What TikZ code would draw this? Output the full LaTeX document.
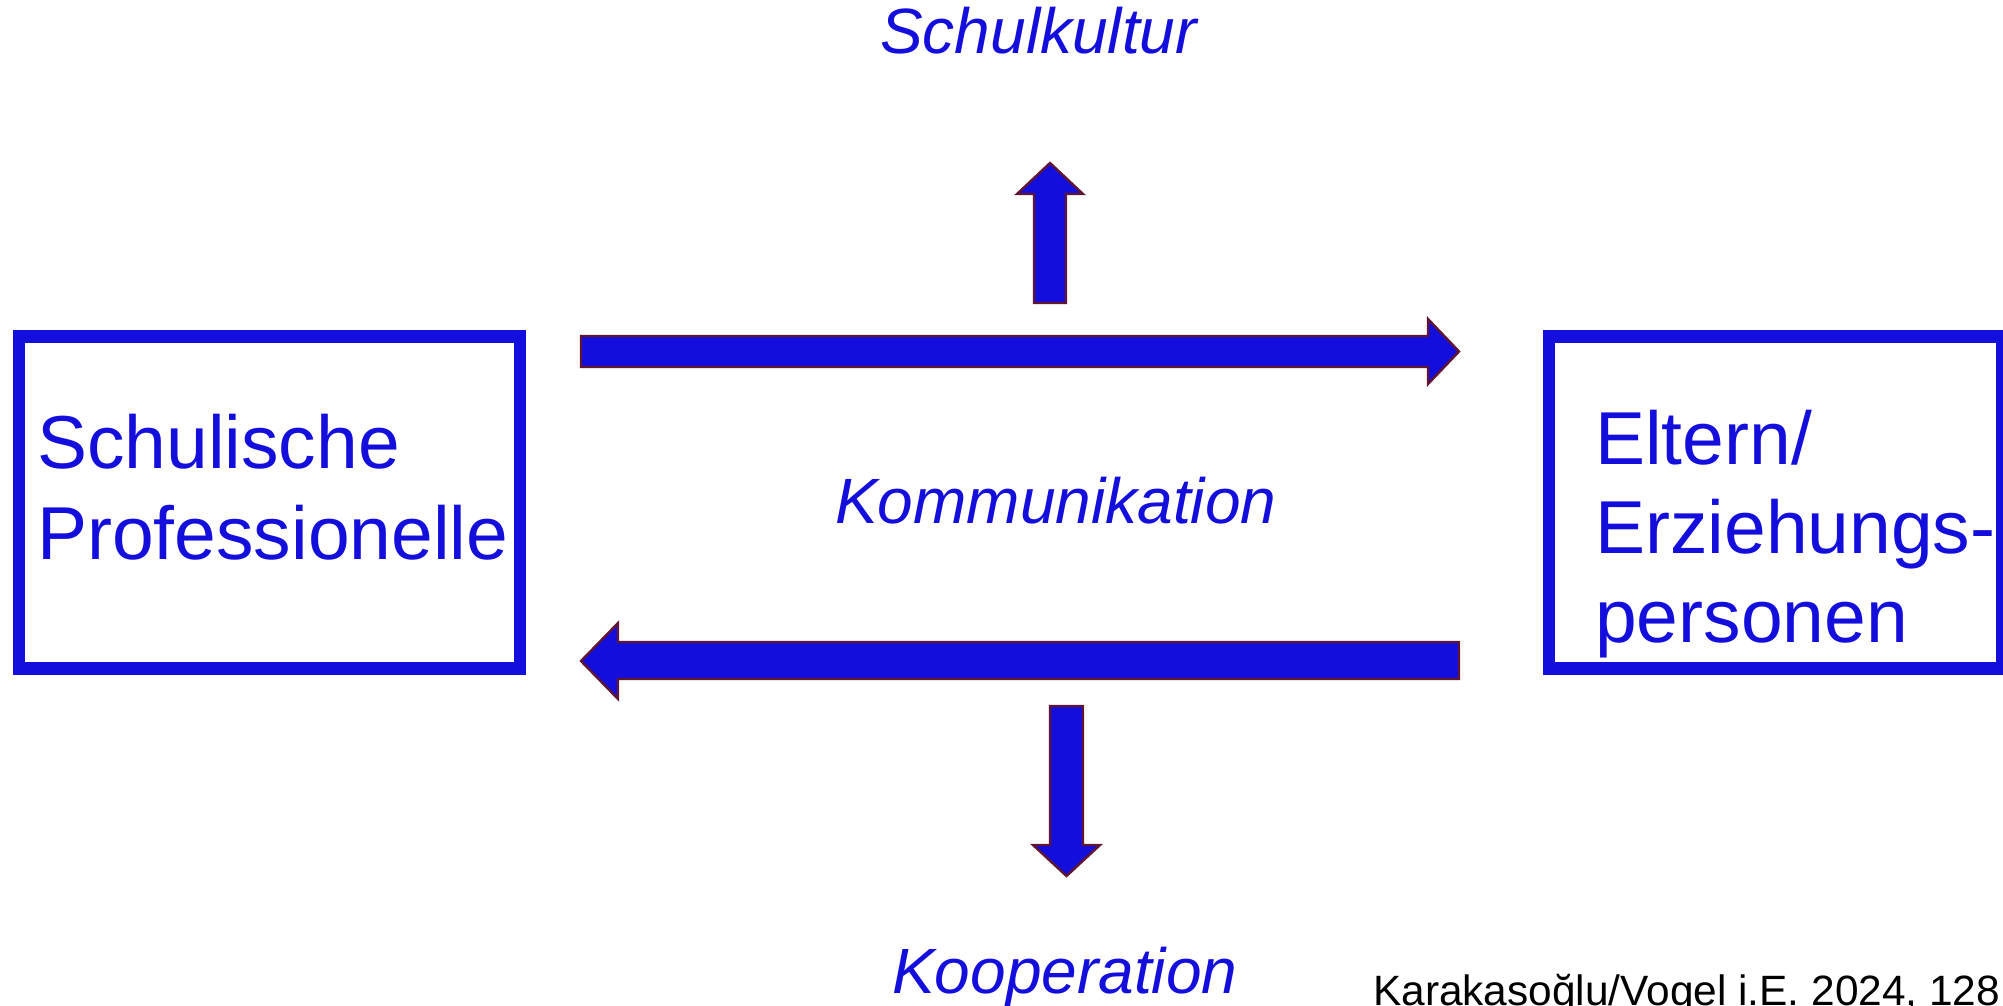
\documentclass[tikz,border=0pt]{standalone}
\usepackage{fontspec}
\setmainfont{Liberation Sans}
\definecolor{bl}{RGB}{20,14,220}
\definecolor{rim}{RGB}{95,22,52}
\begin{document}
\begin{tikzpicture}[x=1pt,y=-1pt]
\tikzset{
  frame/.style={draw=bl,line width=12.5pt,inner sep=0pt},
  blockarrow/.style={fill=bl,draw=rim,line width=2.4pt,line join=miter},
  lbl/.style={text=bl,inner sep=0pt,anchor=base west},
  boxtext/.style={lbl,align=left},
  itl/.style={lbl,font=\fontsize{64}{70}\selectfont\itshape}
}
\useasboundingbox (0,0) rectangle (2003,1006);
% boxes
\node[frame,minimum width=501pt,minimum height=332pt] (prof) at (269.5,502.5) {};
\node[frame,minimum width=453.5pt,minimum height=332pt] (eltern) at (1775.75,502.5) {};
\node[boxtext,font=\fontsize{75}{91}\selectfont] (proftext) at (37,559.5) {Schulische\\Professionelle};
\node[boxtext,font=\fontsize{75}{89}\selectfont] (elterntext) at (1595,642) {Eltern/\\Erziehungs-\\personen};
% labels
\node[itl] (kultur) at (880,54) {Schulkultur};
\node[itl] (komm) at (835,523) {Kommunikation};
\node[itl] (koop) at (892,993) {Kooperation};
\node[lbl,text=black,font=\fontsize{42.4}{50}\selectfont] (cite) at (1373,1005) {Karakasoğlu/Vogel i.E. 2024, 128};
% block arrows
\draw[blockarrow] (581,336) -- (1428,336) -- (1428,319) -- (1459,351.5) -- (1428,384) -- (1428,367) -- (581,367) -- cycle;
\draw[blockarrow] (1459,642) -- (618,642) -- (618,623) -- (581,661) -- (618,699) -- (618,679) -- (1459,679) -- cycle;
\draw[blockarrow] (1034,303) -- (1034,194) -- (1017,194) -- (1050,163) -- (1083,194) -- (1066,194) -- (1066,303) -- cycle;
\draw[blockarrow] (1050,706) -- (1083,706) -- (1083,845) -- (1100,845) -- (1066.5,876) -- (1033,845) -- (1050,845) -- cycle;
\end{tikzpicture}
\end{document}
